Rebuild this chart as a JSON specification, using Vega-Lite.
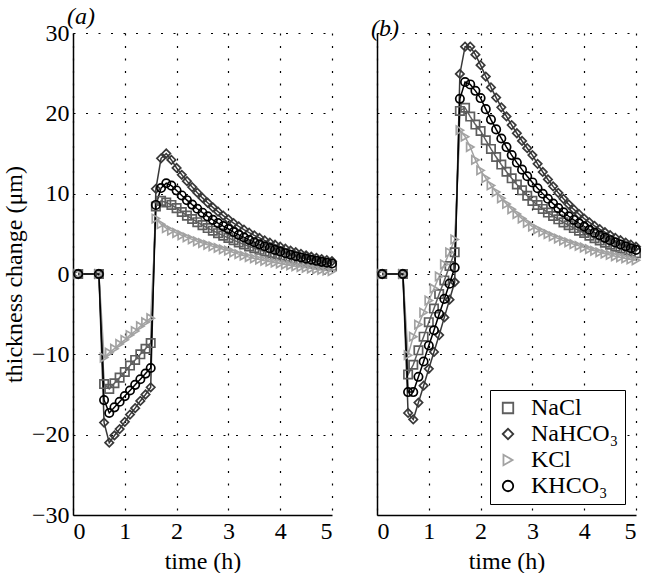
{
  "$schema": "https://vega.github.io/schema/vega-lite/v6.json",
  "background": "white",
  "padding": {"left": 2, "top": 5, "right": 5, "bottom": 2},
  "bounds": "flush",
  "spacing": 45,
  "config": {
    "font": "Liberation Serif",
    "view": {"stroke": null},
    "axis": {
      "labelFont": "Liberation Serif", "labelFontSize": 24, "labelColor": "black", "labelFontWeight": "normal",
      "titleFont": "Liberation Serif", "titleFontSize": 24, "titleFontWeight": "normal", "titleColor": "black",
      "domainColor": "black", "domainWidth": 1.5,
      "gridColor": "black", "gridDash": [2, 10.5], "gridWidth": 1.2, "gridOpacity": 1,
      "ticks": false, "labelPadding": 4
    }
  },
  "datasets": {
    "a": [
      {"series":"NaCl","time":0.1,"value":0},{"series":"NaCl","time":0.5,"value":0},{"series":"NaCl","time":0.6,"value":-13.7},{"series":"NaCl","time":0.7,"value":-14.3},{"series":"NaCl","time":0.8,"value":-13.6},{"series":"NaCl","time":0.9,"value":-12.9},{"series":"NaCl","time":1.0,"value":-12.2},{"series":"NaCl","time":1.1,"value":-11.4},{"series":"NaCl","time":1.2,"value":-10.7},{"series":"NaCl","time":1.3,"value":-10.0},{"series":"NaCl","time":1.4,"value":-9.3},{"series":"NaCl","time":1.5,"value":-8.6},{"series":"NaCl","time":1.6,"value":8.4},{"series":"NaCl","time":1.7,"value":9.1},{"series":"NaCl","time":1.8,"value":8.9},{"series":"NaCl","time":1.9,"value":8.6},
      {"series":"NaCl","time":2.0,"value":8.2},{"series":"NaCl","time":2.1,"value":7.72},{"series":"NaCl","time":2.2,"value":7.27},{"series":"NaCl","time":2.3,"value":6.85},{"series":"NaCl","time":2.4,"value":6.45},{"series":"NaCl","time":2.5,"value":6.08},{"series":"NaCl","time":2.6,"value":5.72},{"series":"NaCl","time":2.7,"value":5.39},{"series":"NaCl","time":2.8,"value":5.08},{"series":"NaCl","time":2.9,"value":4.78},{"series":"NaCl","time":3.0,"value":4.5},{"series":"NaCl","time":3.1,"value":4.21},{"series":"NaCl","time":3.2,"value":3.94},{"series":"NaCl","time":3.3,"value":3.68},{"series":"NaCl","time":3.4,"value":3.44},{"series":"NaCl","time":3.5,"value":3.22},{"series":"NaCl","time":3.6,"value":3.01},{"series":"NaCl","time":3.7,"value":2.81},{"series":"NaCl","time":3.8,"value":2.63},{"series":"NaCl","time":3.9,"value":2.46},{"series":"NaCl","time":4.0,"value":2.3},{"series":"NaCl","time":4.1,"value":2.12},{"series":"NaCl","time":4.2,"value":1.95},{"series":"NaCl","time":4.3,"value":1.79},{"series":"NaCl","time":4.4,"value":1.65},{"series":"NaCl","time":4.5,"value":1.52},{"series":"NaCl","time":4.6,"value":1.39},{"series":"NaCl","time":4.7,"value":1.28},{"series":"NaCl","time":4.8,"value":1.18},{"series":"NaCl","time":4.9,"value":1.09},{"series":"NaCl","time":5.0,"value":1.0},
      {"series":"NaHCO₃","time":0.1,"value":0},{"series":"NaHCO₃","time":0.5,"value":0},{"series":"NaHCO₃","time":0.6,"value":-18.5},{"series":"NaHCO₃","time":0.7,"value":-21.0},{"series":"NaHCO₃","time":0.8,"value":-20.1},{"series":"NaHCO₃","time":0.9,"value":-19.3},{"series":"NaHCO₃","time":1.0,"value":-18.4},{"series":"NaHCO₃","time":1.1,"value":-17.5},{"series":"NaHCO₃","time":1.2,"value":-16.7},{"series":"NaHCO₃","time":1.3,"value":-15.8},{"series":"NaHCO₃","time":1.4,"value":-15.0},{"series":"NaHCO₃","time":1.5,"value":-14.1},{"series":"NaHCO₃","time":1.6,"value":10.6},{"series":"NaHCO₃","time":1.7,"value":14.4},{"series":"NaHCO₃","time":1.8,"value":15.0},{"series":"NaHCO₃","time":1.9,"value":14.2},
      {"series":"NaHCO₃","time":2.0,"value":13.2},{"series":"NaHCO₃","time":2.1,"value":12.35},{"series":"NaHCO₃","time":2.2,"value":11.56},{"series":"NaHCO₃","time":2.3,"value":10.82},{"series":"NaHCO₃","time":2.4,"value":10.12},{"series":"NaHCO₃","time":2.5,"value":9.47},{"series":"NaHCO₃","time":2.6,"value":8.87},{"series":"NaHCO₃","time":2.7,"value":8.3},{"series":"NaHCO₃","time":2.8,"value":7.76},{"series":"NaHCO₃","time":2.9,"value":7.27},{"series":"NaHCO₃","time":3.0,"value":6.8},{"series":"NaHCO₃","time":3.1,"value":6.34},{"series":"NaHCO₃","time":3.2,"value":5.92},{"series":"NaHCO₃","time":3.3,"value":5.52},{"series":"NaHCO₃","time":3.4,"value":5.15},{"series":"NaHCO₃","time":3.5,"value":4.81},{"series":"NaHCO₃","time":3.6,"value":4.49},{"series":"NaHCO₃","time":3.7,"value":4.18},{"series":"NaHCO₃","time":3.8,"value":3.9},{"series":"NaHCO₃","time":3.9,"value":3.64},{"series":"NaHCO₃","time":4.0,"value":3.4},{"series":"NaHCO₃","time":4.1,"value":3.15},{"series":"NaHCO₃","time":4.2,"value":2.92},{"series":"NaHCO₃","time":4.3,"value":2.71},{"series":"NaHCO₃","time":4.4,"value":2.51},{"series":"NaHCO₃","time":4.5,"value":2.33},{"series":"NaHCO₃","time":4.6,"value":2.16},{"series":"NaHCO₃","time":4.7,"value":2.0},{"series":"NaHCO₃","time":4.8,"value":1.86},{"series":"NaHCO₃","time":4.9,"value":1.72},{"series":"NaHCO₃","time":5.0,"value":1.6},
      {"series":"KCl","time":0.1,"value":0},{"series":"KCl","time":0.5,"value":0},{"series":"KCl","time":0.6,"value":-10.4},{"series":"KCl","time":0.7,"value":-9.8},{"series":"KCl","time":0.8,"value":-9.3},{"series":"KCl","time":0.9,"value":-8.7},{"series":"KCl","time":1.0,"value":-8.2},{"series":"KCl","time":1.1,"value":-7.6},{"series":"KCl","time":1.2,"value":-7.1},{"series":"KCl","time":1.3,"value":-6.5},{"series":"KCl","time":1.4,"value":-6.0},{"series":"KCl","time":1.5,"value":-5.5},{"series":"KCl","time":1.6,"value":6.9},{"series":"KCl","time":1.7,"value":6.2},{"series":"KCl","time":1.8,"value":5.7},{"series":"KCl","time":1.9,"value":5.4},
      {"series":"KCl","time":2.0,"value":5.1},{"series":"KCl","time":2.1,"value":4.82},{"series":"KCl","time":2.2,"value":4.56},{"series":"KCl","time":2.3,"value":4.31},{"series":"KCl","time":2.4,"value":4.07},{"series":"KCl","time":2.5,"value":3.85},{"series":"KCl","time":2.6,"value":3.63},{"series":"KCl","time":2.7,"value":3.44},{"series":"KCl","time":2.8,"value":3.25},{"series":"KCl","time":2.9,"value":3.07},{"series":"KCl","time":3.0,"value":2.9},{"series":"KCl","time":3.1,"value":2.68},{"series":"KCl","time":3.2,"value":2.47},{"series":"KCl","time":3.3,"value":2.28},{"series":"KCl","time":3.4,"value":2.1},{"series":"KCl","time":3.5,"value":1.94},{"series":"KCl","time":3.6,"value":1.79},{"series":"KCl","time":3.7,"value":1.65},{"series":"KCl","time":3.8,"value":1.53},{"series":"KCl","time":3.9,"value":1.41},{"series":"KCl","time":4.0,"value":1.3},{"series":"KCl","time":4.1,"value":1.18},{"series":"KCl","time":4.2,"value":1.07},{"series":"KCl","time":4.3,"value":0.96},{"series":"KCl","time":4.4,"value":0.86},{"series":"KCl","time":4.5,"value":0.77},{"series":"KCl","time":4.6,"value":0.68},{"series":"KCl","time":4.7,"value":0.59},{"series":"KCl","time":4.8,"value":0.51},{"series":"KCl","time":4.9,"value":0.43},{"series":"KCl","time":5.0,"value":0.35},
      {"series":"KHCO₃","time":0.1,"value":0},{"series":"KHCO₃","time":0.5,"value":0},{"series":"KHCO₃","time":0.6,"value":-15.7},{"series":"KHCO₃","time":0.7,"value":-17.3},{"series":"KHCO₃","time":0.8,"value":-16.6},{"series":"KHCO₃","time":0.9,"value":-15.9},{"series":"KHCO₃","time":1.0,"value":-15.2},{"series":"KHCO₃","time":1.1,"value":-14.5},{"series":"KHCO₃","time":1.2,"value":-13.8},{"series":"KHCO₃","time":1.3,"value":-13.1},{"series":"KHCO₃","time":1.4,"value":-12.4},{"series":"KHCO₃","time":1.5,"value":-11.7},{"series":"KHCO₃","time":1.6,"value":8.6},{"series":"KHCO₃","time":1.7,"value":10.7},{"series":"KHCO₃","time":1.8,"value":11.3},{"series":"KHCO₃","time":1.9,"value":11.0},
      {"series":"KHCO₃","time":2.0,"value":10.4},{"series":"KHCO₃","time":2.1,"value":9.78},{"series":"KHCO₃","time":2.2,"value":9.19},{"series":"KHCO₃","time":2.3,"value":8.64},{"series":"KHCO₃","time":2.4,"value":8.12},{"series":"KHCO₃","time":2.5,"value":7.63},{"series":"KHCO₃","time":2.6,"value":7.17},{"series":"KHCO₃","time":2.7,"value":6.74},{"series":"KHCO₃","time":2.8,"value":6.34},{"series":"KHCO₃","time":2.9,"value":5.96},{"series":"KHCO₃","time":3.0,"value":5.6},{"series":"KHCO₃","time":3.1,"value":5.22},{"series":"KHCO₃","time":3.2,"value":4.87},{"series":"KHCO₃","time":3.3,"value":4.55},{"series":"KHCO₃","time":3.4,"value":4.24},{"series":"KHCO₃","time":3.5,"value":3.96},{"series":"KHCO₃","time":3.6,"value":3.69},{"series":"KHCO₃","time":3.7,"value":3.45},{"series":"KHCO₃","time":3.8,"value":3.22},{"series":"KHCO₃","time":3.9,"value":3.0},{"series":"KHCO₃","time":4.0,"value":2.8},{"series":"KHCO₃","time":4.1,"value":2.59},{"series":"KHCO₃","time":4.2,"value":2.4},{"series":"KHCO₃","time":4.3,"value":2.22},{"series":"KHCO₃","time":4.4,"value":2.06},{"series":"KHCO₃","time":4.5,"value":1.91},{"series":"KHCO₃","time":4.6,"value":1.77},{"series":"KHCO₃","time":4.7,"value":1.64},{"series":"KHCO₃","time":4.8,"value":1.51},{"series":"KHCO₃","time":4.9,"value":1.4},{"series":"KHCO₃","time":5.0,"value":1.3}
    ],
    "b": [
      {"series":"NaCl","time":0.1,"value":0},{"series":"NaCl","time":0.5,"value":0},{"series":"NaCl","time":0.6,"value":-12.5},{"series":"NaCl","time":0.7,"value":-11.3},{"series":"NaCl","time":0.8,"value":-9.5},{"series":"NaCl","time":0.9,"value":-7.8},{"series":"NaCl","time":1.0,"value":-6.0},{"series":"NaCl","time":1.1,"value":-4.3},{"series":"NaCl","time":1.2,"value":-2.5},{"series":"NaCl","time":1.3,"value":-0.8},{"series":"NaCl","time":1.4,"value":1.0},{"series":"NaCl","time":1.5,"value":2.7},{"series":"NaCl","time":1.6,"value":20.3},{"series":"NaCl","time":1.7,"value":20.7},{"series":"NaCl","time":1.8,"value":19.6},{"series":"NaCl","time":1.9,"value":18.6},
      {"series":"NaCl","time":2.0,"value":17.8},{"series":"NaCl","time":2.1,"value":16.65},{"series":"NaCl","time":2.2,"value":15.57},{"series":"NaCl","time":2.3,"value":14.56},{"series":"NaCl","time":2.4,"value":13.62},{"series":"NaCl","time":2.5,"value":12.73},{"series":"NaCl","time":2.6,"value":11.91},{"series":"NaCl","time":2.7,"value":11.14},{"series":"NaCl","time":2.8,"value":10.42},{"series":"NaCl","time":2.9,"value":9.74},{"series":"NaCl","time":3.0,"value":9.1},{"series":"NaCl","time":3.1,"value":8.59},{"series":"NaCl","time":3.2,"value":8.1},{"series":"NaCl","time":3.3,"value":7.65},{"series":"NaCl","time":3.4,"value":7.22},{"series":"NaCl","time":3.5,"value":6.81},{"series":"NaCl","time":3.6,"value":6.43},{"series":"NaCl","time":3.7,"value":6.07},{"series":"NaCl","time":3.8,"value":5.72},{"series":"NaCl","time":3.9,"value":5.4},{"series":"NaCl","time":4.0,"value":5.1},{"series":"NaCl","time":4.1,"value":4.77},{"series":"NaCl","time":4.2,"value":4.46},{"series":"NaCl","time":4.3,"value":4.17},{"series":"NaCl","time":4.4,"value":3.9},{"series":"NaCl","time":4.5,"value":3.64},{"series":"NaCl","time":4.6,"value":3.4},{"series":"NaCl","time":4.7,"value":3.18},{"series":"NaCl","time":4.8,"value":2.98},{"series":"NaCl","time":4.9,"value":2.78},{"series":"NaCl","time":5.0,"value":2.6},
      {"series":"NaHCO₃","time":0.1,"value":0},{"series":"NaHCO₃","time":0.5,"value":0},{"series":"NaHCO₃","time":0.6,"value":-17.3},{"series":"NaHCO₃","time":0.7,"value":-18.1},{"series":"NaHCO₃","time":0.8,"value":-16.0},{"series":"NaHCO₃","time":0.9,"value":-13.9},{"series":"NaHCO₃","time":1.0,"value":-11.8},{"series":"NaHCO₃","time":1.1,"value":-9.7},{"series":"NaHCO₃","time":1.2,"value":-7.6},{"series":"NaHCO₃","time":1.3,"value":-5.4},{"series":"NaHCO₃","time":1.4,"value":-3.2},{"series":"NaHCO₃","time":1.5,"value":-1.0},{"series":"NaHCO₃","time":1.6,"value":24.9},{"series":"NaHCO₃","time":1.7,"value":28.3},{"series":"NaHCO₃","time":1.8,"value":28.3},{"series":"NaHCO₃","time":1.9,"value":27.3},
      {"series":"NaHCO₃","time":2.0,"value":26.0},{"series":"NaHCO₃","time":2.1,"value":24.58},{"series":"NaHCO₃","time":2.2,"value":23.23},{"series":"NaHCO₃","time":2.3,"value":21.96},{"series":"NaHCO₃","time":2.4,"value":20.75},{"series":"NaHCO₃","time":2.5,"value":19.61},{"series":"NaHCO₃","time":2.6,"value":18.54},{"series":"NaHCO₃","time":2.7,"value":17.52},{"series":"NaHCO₃","time":2.8,"value":16.56},{"series":"NaHCO₃","time":2.9,"value":15.66},{"series":"NaHCO₃","time":3.0,"value":14.8},{"series":"NaHCO₃","time":3.1,"value":13.71},{"series":"NaHCO₃","time":3.2,"value":12.7},{"series":"NaHCO₃","time":3.3,"value":11.77},{"series":"NaHCO₃","time":3.4,"value":10.91},{"series":"NaHCO₃","time":3.5,"value":10.1},{"series":"NaHCO₃","time":3.6,"value":9.36},{"series":"NaHCO₃","time":3.7,"value":8.67},{"series":"NaHCO₃","time":3.8,"value":8.04},{"series":"NaHCO₃","time":3.9,"value":7.45},{"series":"NaHCO₃","time":4.0,"value":6.9},{"series":"NaHCO₃","time":4.1,"value":6.43},{"series":"NaHCO₃","time":4.2,"value":5.99},{"series":"NaHCO₃","time":4.3,"value":5.58},{"series":"NaHCO₃","time":4.4,"value":5.2},{"series":"NaHCO₃","time":4.5,"value":4.84},{"series":"NaHCO₃","time":4.6,"value":4.51},{"series":"NaHCO₃","time":4.7,"value":4.2},{"series":"NaHCO₃","time":4.8,"value":3.91},{"series":"NaHCO₃","time":4.9,"value":3.65},{"series":"NaHCO₃","time":5.0,"value":3.4},
      {"series":"KCl","time":0.1,"value":0},{"series":"KCl","time":0.5,"value":0},{"series":"KCl","time":0.6,"value":-10.1},{"series":"KCl","time":0.7,"value":-7.8},{"series":"KCl","time":0.8,"value":-6.3},{"series":"KCl","time":0.9,"value":-4.8},{"series":"KCl","time":1.0,"value":-3.3},{"series":"KCl","time":1.1,"value":-1.8},{"series":"KCl","time":1.2,"value":-0.3},{"series":"KCl","time":1.3,"value":1.2},{"series":"KCl","time":1.4,"value":2.7},{"series":"KCl","time":1.5,"value":4.3},{"series":"KCl","time":1.6,"value":17.9},{"series":"KCl","time":1.7,"value":17.1},{"series":"KCl","time":1.8,"value":15.8},{"series":"KCl","time":1.9,"value":14.2},
      {"series":"KCl","time":2.0,"value":12.9},{"series":"KCl","time":2.1,"value":11.93},{"series":"KCl","time":2.2,"value":11.03},{"series":"KCl","time":2.3,"value":10.2},{"series":"KCl","time":2.4,"value":9.43},{"series":"KCl","time":2.5,"value":8.72},{"series":"KCl","time":2.6,"value":8.06},{"series":"KCl","time":2.7,"value":7.46},{"series":"KCl","time":2.8,"value":6.9},{"series":"KCl","time":2.9,"value":6.38},{"series":"KCl","time":3.0,"value":5.9},{"series":"KCl","time":3.1,"value":5.57},{"series":"KCl","time":3.2,"value":5.25},{"series":"KCl","time":3.3,"value":4.96},{"series":"KCl","time":3.4,"value":4.68},{"series":"KCl","time":3.5,"value":4.41},{"series":"KCl","time":3.6,"value":4.16},{"series":"KCl","time":3.7,"value":3.93},{"series":"KCl","time":3.8,"value":3.71},{"series":"KCl","time":3.9,"value":3.5},{"series":"KCl","time":4.0,"value":3.3},{"series":"KCl","time":4.1,"value":3.09},{"series":"KCl","time":4.2,"value":2.89},{"series":"KCl","time":4.3,"value":2.7},{"series":"KCl","time":4.4,"value":2.53},{"series":"KCl","time":4.5,"value":2.37},{"series":"KCl","time":4.6,"value":2.21},{"series":"KCl","time":4.7,"value":2.07},{"series":"KCl","time":4.8,"value":1.94},{"series":"KCl","time":4.9,"value":1.81},{"series":"KCl","time":5.0,"value":1.7},
      {"series":"KHCO₃","time":0.1,"value":0},{"series":"KHCO₃","time":0.5,"value":0},{"series":"KHCO₃","time":0.6,"value":-14.7},{"series":"KHCO₃","time":0.7,"value":-14.7},{"series":"KHCO₃","time":0.8,"value":-12.8},{"series":"KHCO₃","time":0.9,"value":-10.9},{"series":"KHCO₃","time":1.0,"value":-8.9},{"series":"KHCO₃","time":1.1,"value":-7.0},{"series":"KHCO₃","time":1.2,"value":-5.0},{"series":"KHCO₃","time":1.3,"value":-3.1},{"series":"KHCO₃","time":1.4,"value":-1.2},{"series":"KHCO₃","time":1.5,"value":0.8},{"series":"KHCO₃","time":1.6,"value":21.8},{"series":"KHCO₃","time":1.7,"value":23.9},{"series":"KHCO₃","time":1.8,"value":23.6},{"series":"KHCO₃","time":1.9,"value":22.8},
      {"series":"KHCO₃","time":2.0,"value":21.9},{"series":"KHCO₃","time":2.1,"value":20.52},{"series":"KHCO₃","time":2.2,"value":19.22},{"series":"KHCO₃","time":2.3,"value":18.0},{"series":"KHCO₃","time":2.4,"value":16.87},{"series":"KHCO₃","time":2.5,"value":15.8},{"series":"KHCO₃","time":2.6,"value":14.8},{"series":"KHCO₃","time":2.7,"value":13.87},{"series":"KHCO₃","time":2.8,"value":12.99},{"series":"KHCO₃","time":2.9,"value":12.17},{"series":"KHCO₃","time":3.0,"value":11.4},{"series":"KHCO₃","time":3.1,"value":10.67},{"series":"KHCO₃","time":3.2,"value":9.99},{"series":"KHCO₃","time":3.3,"value":9.36},{"series":"KHCO₃","time":3.4,"value":8.76},{"series":"KHCO₃","time":3.5,"value":8.2},{"series":"KHCO₃","time":3.6,"value":7.68},{"series":"KHCO₃","time":3.7,"value":7.19},{"series":"KHCO₃","time":3.8,"value":6.73},{"series":"KHCO₃","time":3.9,"value":6.3},{"series":"KHCO₃","time":4.0,"value":5.9},{"series":"KHCO₃","time":4.1,"value":5.51},{"series":"KHCO₃","time":4.2,"value":5.15},{"series":"KHCO₃","time":4.3,"value":4.82},{"series":"KHCO₃","time":4.4,"value":4.5},{"series":"KHCO₃","time":4.5,"value":4.21},{"series":"KHCO₃","time":4.6,"value":3.93},{"series":"KHCO₃","time":4.7,"value":3.68},{"series":"KHCO₃","time":4.8,"value":3.44},{"series":"KHCO₃","time":4.9,"value":3.21},{"series":"KHCO₃","time":5.0,"value":3.0}
    ]
  },
  "resolve": {"legend": {"color": "independent", "shape": "independent"}},
  "hconcat": [
    {
      "width": 259, "height": 482,
      "data": {"name": "a"},
      "title": {"text": "(a)", "anchor": "start", "frame": "group", "font": "Liberation Serif", "fontStyle": "italic", "fontWeight": "normal", "fontSize": 24, "color": "black", "dx": -6, "offset": -8},
      "encoding": {
        "x": {"field": "time", "type": "quantitative", "scale": {"domain": [0, 5], "nice": false}, "axis": {"values": [0, 1, 2, 3, 4, 5], "title": "time (h)", "titleFontWeight": "normal", "grid": true, "titlePadding": 6}},
        "y": {"field": "value", "type": "quantitative", "scale": {"domain": [-30, 30], "nice": false}, "axis": {"values": [-30, -20, -10, 0, 10, 20, 30], "title": "thickness change (μm)", "titleFontWeight": "normal", "grid": true, "titlePadding": 5}},
        "color": {"field": "series", "type": "nominal", "scale": {"domain": ["NaCl", "NaHCO₃", "KCl", "KHCO₃"], "range": ["#5e5e5e", "#383838", "#a2a2a2", "#000000"]}, "legend": null}
      },
      "layer": [
        {"mark": {"type": "line", "strokeWidth": 1.5}},
        {"mark": {"type": "point", "filled": false, "strokeWidth": 1.7, "size": 70, "opacity": 1},
         "encoding": {"shape": {"field": "series", "type": "nominal", "scale": {"domain": ["NaCl", "NaHCO₃", "KCl", "KHCO₃"], "range": ["square", "diamond", "triangle-right", "circle"]}, "legend": null}}}
      ]
    },
    {
      "width": 259, "height": 482,
      "data": {"name": "b"},
      "title": {"text": "(b)", "anchor": "start", "frame": "group", "font": "Liberation Serif", "fontStyle": "italic", "fontWeight": "normal", "fontSize": 24, "color": "black", "dx": -6, "offset": -8},
      "encoding": {
        "x": {"field": "time", "type": "quantitative", "scale": {"domain": [0, 5], "nice": false}, "axis": {"values": [0, 1, 2, 3, 4, 5], "title": "time (h)", "titleFontWeight": "normal", "grid": true, "titlePadding": 6}},
        "y": {"field": "value", "type": "quantitative", "scale": {"domain": [-30, 30], "nice": false}, "axis": {"values": [-30, -20, -10, 0, 10, 20, 30], "title": null, "labels": false, "grid": true}},
        "color": {"field": "series", "type": "nominal", "scale": {"domain": ["NaCl", "NaHCO₃", "KCl", "KHCO₃"], "range": ["#5e5e5e", "#383838", "#a2a2a2", "#000000"]},
          "legend": {"title": null, "orient": "bottom-right", "offset": 11, "padding": 6, "fillColor": "white", "strokeColor": "black", "labelFont": "Liberation Serif", "labelFontSize": 24, "labelColor": "black", "labelOffset": 11, "symbolSize": 110, "symbolStrokeWidth": 1.8, "rowPadding": 2}}
      },
      "layer": [
        {"mark": {"type": "line", "strokeWidth": 1.5}},
        {"mark": {"type": "point", "filled": false, "strokeWidth": 1.7, "size": 70, "opacity": 1},
         "encoding": {"shape": {"field": "series", "type": "nominal", "scale": {"domain": ["NaCl", "NaHCO₃", "KCl", "KHCO₃"], "range": ["square", "diamond", "triangle-right", "circle"]},
           "legend": {"title": null, "orient": "bottom-right", "offset": 11, "padding": 6, "fillColor": "white", "strokeColor": "black", "labelFont": "Liberation Serif", "labelFontSize": 24, "labelColor": "black", "labelOffset": 11, "symbolSize": 110, "symbolStrokeWidth": 1.8, "rowPadding": 2}}}}
      ]
    }
  ]
}
